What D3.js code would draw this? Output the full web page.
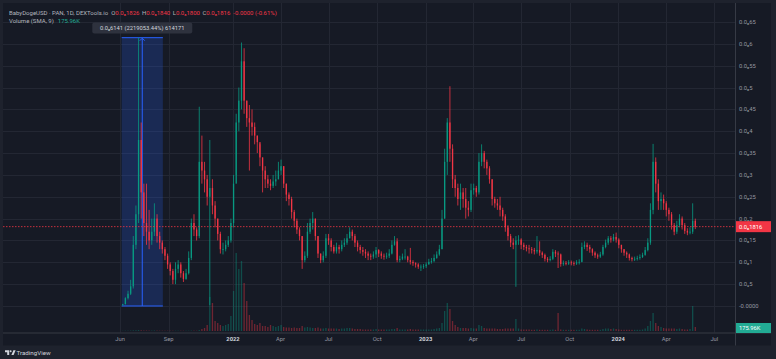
<!DOCTYPE html>
<html><head><meta charset="utf-8">
<script src="https://cdn.jsdelivr.net/npm/d3@7"></script>
<style>
html,body{margin:0;padding:0;background:#1e222d;}
svg{display:block;font-family:Roboto,"Noto Sans","DejaVu Sans",sans-serif;}
</style></head><body>
<svg id="c" width="776" height="359"></svg>
<script>
// ---------- DATA ----------
const startDate = new Date(2021, 5, 6);
const stepDays = 5;
const firstOpen = 0.002;
const closes = [
0.004,0.018,0.028,0.045,0.14,0.21,0.38,0.26,0.19,0.17,
0.15,0.17,0.2,0.16,0.145,0.13,0.115,0.095,0.08,0.06,
0.085,0.095,0.075,0.062,0.075,0.11,0.19,0.175,0.16,0.33,
0.31,0.29,0.25,0.27,0.23,0.2,0.165,0.13,0.13,0.14,
0.15,0.19,0.28,0.42,0.47,0.56,0.47,0.43,0.42,0.41,
0.39,0.375,0.34,0.31,0.29,0.28,0.275,0.285,0.29,0.31,
0.32,0.28,0.255,0.245,0.215,0.195,0.175,0.16,0.105,0.115,
0.17,0.19,0.2,0.16,0.12,0.105,0.115,0.155,0.15,0.135,
0.125,0.135,0.13,0.14,0.145,0.155,0.17,0.16,0.145,0.135,
0.128,0.124,0.12,0.115,0.113,0.118,0.128,0.12,0.115,0.113,
0.115,0.12,0.14,0.148,0.105,0.108,0.113,0.113,0.105,0.101,
0.098,0.095,0.09,0.09,0.091,0.095,0.101,0.103,0.11,0.118,
0.13,0.2,0.33,0.42,0.36,0.29,0.27,0.245,0.26,0.245,
0.225,0.22,0.265,0.27,0.26,0.33,0.35,0.33,0.315,0.29,
0.245,0.235,0.23,0.22,0.205,0.18,0.16,0.145,0.14,0.15,
0.152,0.14,0.135,0.132,0.13,0.128,0.125,0.128,0.122,0.117,
0.108,0.105,0.108,0.124,0.12,0.118,0.096,0.098,0.097,0.1,
0.098,0.097,0.1,0.101,0.135,0.14,0.135,0.13,0.122,0.116,
0.113,0.118,0.135,0.145,0.155,0.152,0.158,0.152,0.14,0.13,
0.122,0.118,0.11,0.107,0.108,0.11,0.112,0.117,0.128,0.145,
0.22,0.33,0.28,0.24,0.245,0.235,0.22,0.21,0.185,0.17,
0.185,0.2,0.185,0.172,0.168,0.17,0.195,0.1816
];
const highs = [
0.005,0.02,0.035,0.06,0.16,0.23,0.6141,0.42,0.28,0.28,
0.22,0.2,0.235,0.21,0.17,0.15,0.135,0.12,0.1,0.085,
0.1,0.105,0.1,0.08,0.085,0.125,0.2,0.21,0.18,0.456,
0.39,0.33,0.3,0.38,0.29,0.24,0.2,0.17,0.145,0.15,
0.16,0.2,0.3,0.44,0.5,0.603,0.59,0.47,0.46,0.45,
0.42,0.39,0.37,0.34,0.32,0.3,0.29,0.3,0.31,0.33,
0.335,0.32,0.28,0.26,0.25,0.22,0.2,0.18,0.16,0.125,
0.19,0.2,0.215,0.2,0.16,0.12,0.125,0.165,0.165,0.155,
0.14,0.145,0.14,0.15,0.155,0.165,0.18,0.175,0.165,0.15,
0.14,0.135,0.13,0.125,0.12,0.125,0.135,0.13,0.125,0.12,
0.122,0.13,0.15,0.16,0.155,0.115,0.12,0.13,0.115,0.133,
0.105,0.1,0.098,0.095,0.096,0.1,0.108,0.11,0.118,0.125,
0.14,0.22,0.36,0.43,0.503,0.37,0.3,0.28,0.28,0.27,
0.27,0.24,0.28,0.28,0.275,0.35,0.37,0.355,0.335,0.32,
0.29,0.25,0.245,0.25,0.225,0.21,0.185,0.165,0.155,0.16,
0.162,0.155,0.145,0.14,0.14,0.135,0.133,0.16,0.148,0.125,
0.12,0.112,0.114,0.13,0.128,0.125,0.12,0.104,0.103,0.105,
0.104,0.102,0.105,0.107,0.145,0.148,0.145,0.14,0.132,0.125,
0.12,0.124,0.14,0.152,0.16,0.16,0.165,0.168,0.155,0.14,
0.13,0.125,0.12,0.113,0.113,0.115,0.118,0.122,0.135,0.155,
0.235,0.371,0.34,0.29,0.26,0.255,0.24,0.225,0.215,0.19,
0.195,0.21,0.205,0.19,0.178,0.18,0.235,0.2
];
const lows = [
0.001,0.004,0.015,0.025,0.04,0.13,0.19,0.2,0.16,0.14,
0.13,0.14,0.16,0.145,0.13,0.12,0.105,0.085,0.07,0.05,
0.05,0.075,0.065,0.055,0.06,0.072,0.105,0.16,0.15,0.155,
0.28,0.26,0.23,0.002,0.21,0.18,0.15,0.12,0.118,0.125,
0.135,0.145,0.18,0.3,0.4,0.45,0.44,0.41,0.31,0.39,
0.37,0.35,0.32,0.26,0.27,0.27,0.265,0.27,0.275,0.29,
0.3,0.27,0.24,0.23,0.2,0.18,0.165,0.15,0.085,0.1,
0.11,0.165,0.175,0.15,0.11,0.098,0.1,0.11,0.14,0.125,
0.12,0.12,0.12,0.125,0.135,0.14,0.155,0.15,0.135,0.125,
0.12,0.115,0.11,0.105,0.105,0.108,0.11,0.112,0.108,0.106,
0.108,0.11,0.118,0.138,0.1,0.1,0.105,0.106,0.1,0.095,
0.092,0.088,0.085,0.08,0.085,0.087,0.095,0.097,0.1,0.108,
0.115,0.13,0.2,0.3,0.33,0.27,0.25,0.23,0.22,0.225,
0.2,0.205,0.215,0.255,0.25,0.255,0.32,0.315,0.3,0.28,
0.23,0.225,0.22,0.205,0.195,0.17,0.15,0.135,0.13,0.044,
0.14,0.13,0.128,0.125,0.12,0.12,0.118,0.12,0.115,0.11,
0.102,0.1,0.102,0.105,0.112,0.087,0.09,0.092,0.093,0.094,
0.093,0.092,0.094,0.095,0.1,0.13,0.126,0.122,0.115,0.11,
0.108,0.11,0.115,0.132,0.14,0.145,0.148,0.145,0.132,0.122,
0.115,0.11,0.104,0.102,0.103,0.104,0.106,0.11,0.115,0.125,
0.14,0.21,0.26,0.22,0.22,0.22,0.205,0.195,0.175,0.162,
0.165,0.18,0.175,0.165,0.162,0.164,0.165,0.176
];
const volumes = [
0.2,0.3,0.3,0.4,0.6,0.7,0.9,0.7,0.5,0.5,
0.4,0.4,0.5,0.4,0.3,0.3,0.3,0.3,0.3,0.3,
0.3,0.3,0.3,0.3,0.3,0.3,0.4,0.4,0.3,0.9,
2,3,6,34,28,10,8,6,5,6,
7,15,40,78,62,70,48,30,16,11,
7,6,8,5,5,4,6,5,4,5,
6,4,3.5,3.5,3,3.5,3,3,5,3.5,
4,3.5,3,3,3.5,2.5,2.5,3,2.5,2.5,
2.5,2.5,2,2.5,2.5,3,3,2.5,2,2,
2,1.5,1.5,1.5,1.5,1.5,2,1.5,1.5,1.5,
1.5,1.5,2,2,3,1.5,1.5,1.5,1.5,2,
1.5,1.5,1.5,1.5,1.5,1.5,1.5,1.5,2,2.5,
3,8,20,28,22,10,6,4,3,3,
3,2.5,3,2.5,2.5,6,5,3,2.5,2.5,
2.5,2.5,2,2,2,2.5,2.5,2.5,2.5,12,
2.5,1.5,1.5,1.5,1.5,1.2,1.2,1.5,1.2,1.2,
1.2,1.2,1.2,1.5,1.2,18,1.5,1.2,1.2,1.2,
1.2,1.2,1.2,1.2,2.5,2,1.5,1.2,1.2,1.2,
1.2,1.2,2,2.5,2.5,2,2.5,2,1.5,1.2,
1.2,1.2,1.2,1.2,1.2,1.2,1.2,1.5,2.5,5,
10,18,8,5,4,3,2.5,2.5,2.5,2.5,
2,2.5,2,1.5,1.5,2,25,4
];
const priceTicks = [0,0.05,0.1,0.15,0.2,0.25,0.3,0.35,0.4,0.45,0.5,0.55,0.6,0.65];
const priceTickLabels = ["-0.0000","0.0₉5","0.0₈1","0.0₈15","0.0₈2","0.0₈25","0.0₈3","0.0₈35","0.0₈4","0.0₈45","0.0₈5","0.0₈55","0.0₈6","0.0₈65"];
const timeTicks = [new Date(2021,5,1),new Date(2021,8,1),new Date(2022,0,1),new Date(2022,3,1),new Date(2022,6,1),new Date(2022,9,1),new Date(2023,0,1),new Date(2023,3,1),new Date(2023,6,1),new Date(2023,9,1),new Date(2024,0,1),new Date(2024,3,1),new Date(2024,6,1)];
const timeTickLabels = ["Jun","Sep","2022","Apr","Jul","Oct","2023","Apr","Jul","Oct","2024","Apr","Jul"];
const lastPrice = 0.1816, lastPriceLabel = "0.0₈1816";
const volSma = 3, volSmaLabel = "175.96K";
const measureFromIdx = 0, measureToIdx = 15, measureLow = 0, measureHigh = 0.6141;
const measureLabel = "0.0₈6141 (2219053.44%) 614171";
const headerTitle = "BabyDogeUSD · PAN, 1D, DEXTools.io";
const headerOHLC = [["O","0.0₈1826"],["H","0.0₈1840"],["L","0.0₈1800"],["C","0.0₈1816"]];
const headerChange = "-0.0000 (-0.61%)";

// ---------- LAYOUT ----------
const W = 776, H = 359;
const plotL = 3, plotR = 735, plotT = 3, plotB = 332.5, axisR = 771, bottomB = 345.5;
const UP = "#089981", DOWN = "#f23645";
const svg = d3.select("#c");

const x = d3.scaleTime().domain([new Date(2021,5,1), new Date(2024,6,1)]).range([120.1, 714.3]);
const y = d3.scaleLinear().domain([0, 0.65]).range([306, 22]);
const yv = d3.scaleLinear().domain([0, 81]).range([331, 250]);

const data = closes.map((c, i) => ({
  date: d3.timeDay.offset(startDate, i * stepDays),
  o: i ? closes[i-1] : firstOpen, h: highs[i], l: lows[i], c, v: volumes[i]
}));

// backgrounds
svg.append("rect").attr("width", W).attr("height", H).attr("fill", "#1e222d");
svg.append("rect").attr("x", plotL).attr("y", plotT).attr("width", axisR - plotL).attr("height", bottomB - plotT).attr("fill", "#161a25");

// grid
const grid = svg.append("g");
grid.selectAll("line.h").data(priceTicks).join("line")
  .attr("x1", plotL).attr("x2", plotR).attr("y1", d => Math.round(y(d)) + 0.5).attr("y2", d => Math.round(y(d)) + 0.5)
  .attr("stroke", "#232733").attr("stroke-width", 1);
grid.selectAll("line.v").data(timeTicks).join("line")
  .attr("x1", d => Math.round(x(d)) + 0.5).attr("x2", d => Math.round(x(d)) + 0.5).attr("y1", plotT).attr("y2", plotB)
  .attr("stroke", "#232733").attr("stroke-width", 1);

// clip
svg.append("clipPath").attr("id", "pc").append("rect").attr("x", plotL).attr("y", plotT).attr("width", plotR - plotL).attr("height", plotB - plotT);
const plot = svg.append("g").attr("clip-path", "url(#pc)");

const step = x(d3.timeDay.offset(startDate, stepDays)) - x(startDate);
const bw = step * 0.5;

// measurement box
const mx0 = x(data[measureFromIdx].date) - step * 0.4, mx1 = x(data[measureToIdx].date) + step * 0.2;
const my0 = y(measureHigh), my1 = y(measureLow);
plot.append("rect").attr("x", mx0).attr("y", my0).attr("width", mx1 - mx0).attr("height", my1 - my0).attr("fill", "rgba(41,98,255,0.22)");
plot.append("line").attr("x1", mx0).attr("x2", mx1).attr("y1", my0).attr("y2", my0).attr("stroke", "#2962ff").attr("stroke-width", 1);
plot.append("line").attr("x1", mx0).attr("x2", mx1).attr("y1", my1).attr("y2", my1).attr("stroke", "#2962ff").attr("stroke-width", 1);
const mmid = (mx0 + mx1) / 2;
plot.append("line").attr("x1", mmid).attr("x2", mmid).attr("y1", my1).attr("y2", my0 + 1).attr("stroke", "#2962ff").attr("stroke-width", 1);
plot.append("path").attr("d", `M${mmid-2.5},${my0+3}L${mmid},${my0+0.5}L${mmid+2.5},${my0+3}`).attr("fill", "none").attr("stroke", "#2962ff").attr("stroke-width", 1);

// volume bars
plot.selectAll("rect.vol").data(data).join("rect")
  .attr("x", d => x(d.date) - bw / 2).attr("width", bw)
  .attr("y", d => yv(d.v)).attr("height", d => yv(0) - yv(d.v))
  .attr("fill", d => d.c >= d.o ? "rgba(8,153,129,0.4)" : "rgba(242,54,69,0.4)");

// candles
const cg = plot.append("g");
cg.selectAll("line").data(data).join("line")
  .attr("x1", d => x(d.date)).attr("x2", d => x(d.date))
  .attr("y1", d => y(d.h)).attr("y2", d => y(d.l))
  .attr("stroke", d => d.c >= d.o ? UP : DOWN).attr("stroke-width", 0.8);
cg.selectAll("rect").data(data).join("rect")
  .attr("x", d => x(d.date) - bw / 2).attr("width", bw)
  .attr("y", d => y(Math.max(d.o, d.c)))
  .attr("height", d => Math.max(0.8, Math.abs(y(d.o) - y(d.c))))
  .attr("fill", d => d.c >= d.o ? UP : DOWN);

// last price dashed line
plot.append("line").attr("x1", plotL).attr("x2", plotR).attr("y1", y(lastPrice)).attr("y2", y(lastPrice))
  .attr("stroke", DOWN).attr("stroke-width", 0.8).attr("stroke-dasharray", "1.5,1.5");

// axis separators
svg.append("line").attr("x1", plotR + 0.5).attr("x2", plotR + 0.5).attr("y1", plotT).attr("y2", bottomB).attr("stroke", "#363a45");
svg.append("line").attr("x1", plotL).attr("x2", axisR).attr("y1", plotB + 0.5).attr("y2", plotB + 0.5).attr("stroke", "#363a45");

// price axis labels
svg.append("g").selectAll("text").data(priceTicks).join("text")
  .attr("x", plotR + 4).attr("y", d => y(d)).attr("dy", "0.35em")
  .attr("font-size", 5.8).attr("fill", "#9598a1")
  .text((d, i) => priceTickLabels[i]);

// time axis labels
svg.append("g").selectAll("text").data(timeTicks).join("text")
  .attr("x", d => x(d)).attr("y", 339).attr("dy", "0.35em").attr("text-anchor", "middle")
  .attr("font-size", 5.8)
  .attr("fill", (d, i) => /^\d{4}$/.test(timeTickLabels[i]) ? "#d1d4dc" : "#9598a1")
  .attr("font-weight", (d, i) => /^\d{4}$/.test(timeTickLabels[i]) ? 700 : 400)
  .text((d, i) => timeTickLabels[i]);

// last price label
const lpY = y(lastPrice);
svg.append("rect").attr("x", plotR + 1).attr("y", lpY - 5.5).attr("width", axisR - plotR - 1).attr("height", 11).attr("fill", DOWN);
svg.append("text").attr("x", plotR + 4).attr("y", lpY).attr("dy", "0.35em").attr("font-size", 5.8).attr("fill", "#ffffff").text(lastPriceLabel);

// volume SMA label
const vsY = yv(volSma);
svg.append("rect").attr("x", plotR + 1).attr("y", vsY - 5).attr("width", axisR - plotR - 1).attr("height", 10).attr("fill", "#22ab94");
svg.append("text").attr("x", plotR + 4).attr("y", vsY).attr("dy", "0.35em").attr("font-size", 5.8).attr("fill", "#ffffff").text(volSmaLabel);

// measurement tooltip
const tipW = 100, tipH = 11, tipY = 22.5;
svg.append("rect").attr("x", mmid - tipW / 2).attr("y", tipY).attr("width", tipW).attr("height", tipH).attr("rx", 2).attr("fill", "#2e323e");
svg.append("text").attr("x", mmid).attr("y", tipY + tipH / 2).attr("dy", "0.35em").attr("text-anchor", "middle")
  .attr("font-size", 5.8).attr("fill", "#d1d4dc").text(measureLabel);

// header
const h1 = svg.append("text").attr("x", 9).attr("y", 12.5).attr("dy", "0.35em").attr("font-size", 6).attr("fill", "#b2b5be");
h1.append("tspan").text(headerTitle);
headerOHLC.forEach((p, i) => {
  h1.append("tspan").attr("dx", i === 0 ? 3 : 2.5).attr("fill", "#b2b5be").text(p[0]);
  h1.append("tspan").attr("fill", DOWN).text(p[1]);
});
h1.append("tspan").attr("dx", 3).attr("fill", DOWN).text(headerChange);
const h2 = svg.append("text").attr("x", 9).attr("y", 20.5).attr("dy", "0.35em").attr("font-size", 6).attr("fill", "#b2b5be");
h2.append("tspan").text("Volume (SMA, 9)");
h2.append("tspan").attr("dx", 4).attr("fill", "#22ab94").text(volSmaLabel);

// TradingView logo
const lg = svg.append("g").attr("fill", "#d1d4dc");
lg.append("path").attr("d", "M5,350.3h4.2v4.6h-2v-2.6h-2.2z");
lg.append("circle").attr("cx", 10.6).attr("cy", 351.3).attr("r", 1);
lg.append("path").attr("d", "M11.4,354.9l2-4.6h2.2l-2,4.6z");
svg.append("text").attr("x", 16.5).attr("y", 352.6).attr("dy", "0.35em").attr("font-size", 6.2).attr("fill", "#d1d4dc").text("TradingView");
</script>
</body></html>
